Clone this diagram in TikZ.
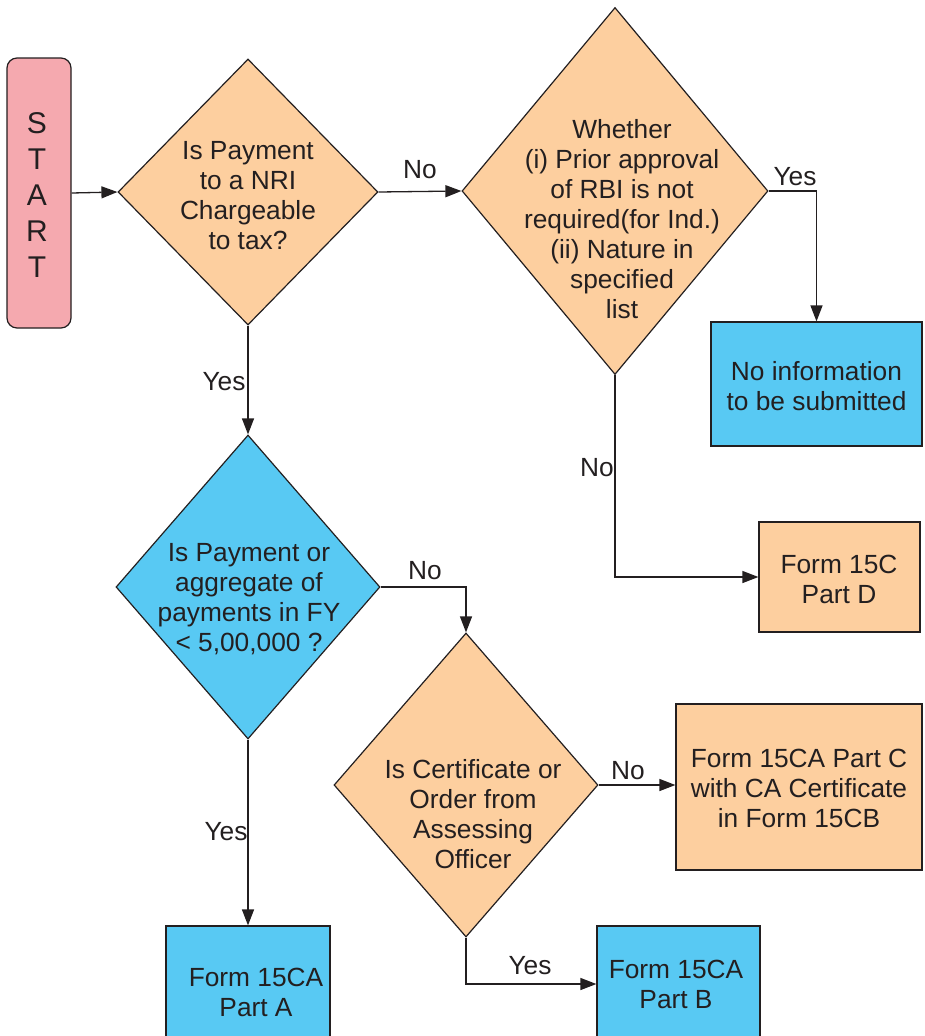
\documentclass[tikz,border=0pt]{standalone}
\usepackage{fontspec}
\setmainfont{Liberation Sans}
\usetikzlibrary{shapes.geometric,arrows.meta}
\definecolor{pinkf}{HTML}{F5A9AF}
\definecolor{orangef}{HTML}{FDCF9F}
\definecolor{bluef}{HTML}{58C9F3}
\definecolor{linec}{HTML}{231F20}
\begin{document}
\begin{tikzpicture}[x=1pt,y=-1pt,
  txt/.style={font=\fontsize{26.3}{30}\selectfont, text=linec, align=center, inner sep=0pt},
  dia/.style={diamond, draw=linec, line width=1.2pt, inner sep=0pt},
  box/.style={rectangle, draw=linec, line width=1.2pt, inner sep=0pt},
  arr/.style={draw=linec, line width=1.3pt, -{Triangle[length=16pt,width=12pt]}}
]
\useasboundingbox (0,0) rectangle (924,1036);
% start
\node[box, rounded corners=10pt, fill=pinkf, minimum width=64pt, minimum height=270pt] (start) at (39,193) {};
\node[txt, font=\fontsize{30}{36}\selectfont] (startt) at (37,195) {S\\T\\A\\R\\T};
% diamonds
\node[dia, fill=orangef, minimum width=260pt, minimum height=266pt] (d1) at (248,192) {};
\node[txt] (d1t) at (248,196) {Is Payment\\to a NRI\\Chargeable\\to tax?};
\node[dia, fill=orangef, minimum width=306pt, minimum height=367pt] (d2) at (615,191) {};
\node[txt] (d2t) at (622,219) {Whether\\(i) Prior approval\\of RBI is not\\required(for Ind.)\\(ii) Nature in\\specified\\list};
\node[dia, fill=bluef, minimum width=264pt, minimum height=304pt] (d3) at (248,587) {};
\node[txt] (d3t) at (249,599) {Is Payment or\\aggregate of\\payments in FY\\< 5,00,000 ?};
\node[dia, fill=orangef, minimum width=264pt, minimum height=304pt] (d4) at (466,785) {};
\node[txt] (d4t) at (473,814) {Is Certificate or\\Order from\\Assessing\\Officer};
% boxes
\node[box, fill=bluef, minimum width=211pt, minimum height=124pt] (ni) at (816.5,384) {};
\node[txt] (nit) at (816.5,386) {No information\\to be submitted};
\node[box, fill=orangef, minimum width=161pt, minimum height=110pt] (f15c) at (839.5,577) {};
\node[txt] (f15ct) at (839,579) {Form 15C\\Part D};
\node[box, fill=orangef, minimum width=246pt, minimum height=166pt] (pc) at (799,787) {};
\node[txt] (pct) at (799,788) {Form 15CA Part C\\with CA Certificate\\in Form 15CB};
\node[box, fill=bluef, minimum width=164pt, minimum height=116pt] (pa) at (248,984) {};
\node[txt] (pat) at (256,992) {Form 15CA\\Part A};
\node[box, fill=bluef, minimum width=163pt, minimum height=116pt] (pb) at (678.5,984) {};
\node[txt] (pbt) at (676,984) {Form 15CA\\Part B};
% connectors
\draw[arr] (start.east) -- (d1.west);
\draw[arr] (d1.east) -- (d2.west);
\draw[arr] (d2.east) -| (ni.north);
\draw[arr] (d2.south) |- (f15c.west);
\draw[arr] (d1.south) -- (d3.north);
\draw[arr] (d3.east) -| (d4.north);
\draw[arr] (d4.east) -- (d4.east -| pc.west);
\draw[arr] (d4.south) |- (pb.west);
\draw[arr] (d3.south) -- (pa.north);
% labels
\node[txt] (l1) at (420,170) {No};
\node[txt] (l2) at (795,177) {Yes};
\node[txt] (l3) at (224,382) {Yes};
\node[txt] (l4) at (597,468) {No};
\node[txt] (l5) at (425,571) {No};
\node[txt] (l6) at (628,771) {No};
\node[txt] (l7) at (226,832) {Yes};
\node[txt] (l8) at (530,966) {Yes};
\end{tikzpicture}
\end{document}
